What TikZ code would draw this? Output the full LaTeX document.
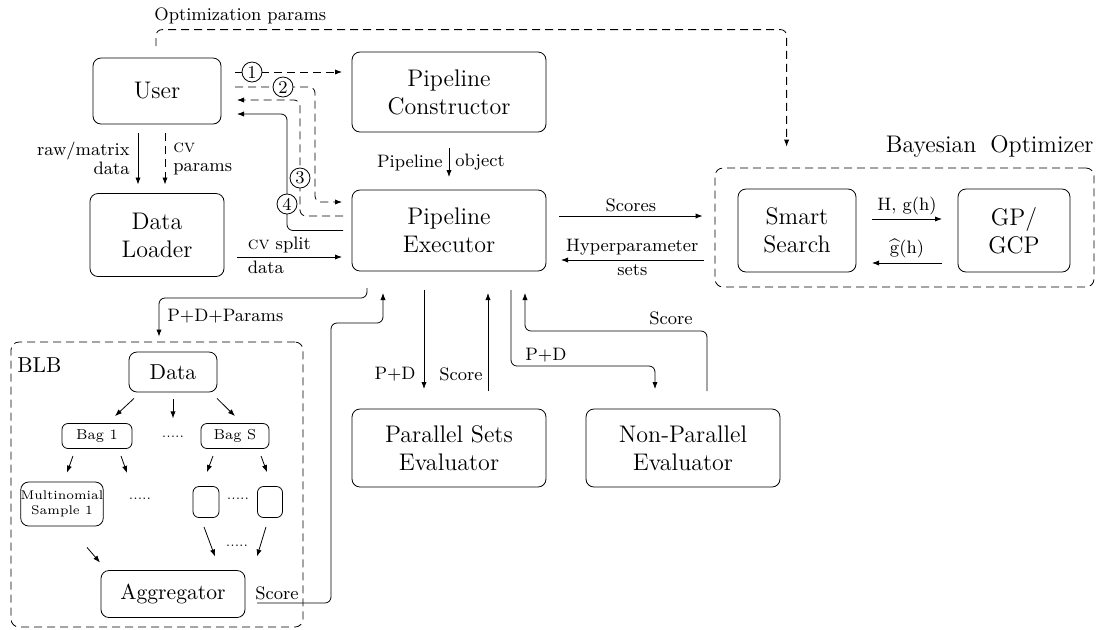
\documentclass[tikz,border=0pt]{standalone}
\usetikzlibrary{arrows.meta,calc}
\begin{document}
\begin{tikzpicture}[x=0.5pt,y=-0.5pt,
  >={Latex[length=3.5pt,width=2.6pt]},
  box/.style={draw, rounded corners=4pt, align=center, font=\large, inner sep=0pt, outer sep=0pt},
  sbox/.style={draw, rounded corners=3pt, align=center, inner sep=0pt},
  grp/.style={draw, dash pattern=on 4pt off 2.5pt, rounded corners=4pt, inner sep=0pt},
  dsh/.style={dash pattern=on 4pt off 2.5pt},
  lbl/.style={font=\small, inner xsep=0pt, inner ysep=2pt, align=center},
  twol/.style={font=\fontsize{9}{9.5}\selectfont, inner xsep=4pt, inner ysep=0pt},
  circ/.style={draw, circle, fill=white, inner sep=0pt, minimum size=10pt, font=\small},
  rc/.style={rounded corners=3pt},
  blbf/.style={font=\fontsize{10.8}{13}\selectfont},
  dots/.style={font=\fontsize{6.3}{7}\selectfont, inner sep=0pt}
]
\useasboundingbox (0,0) rectangle (1099,629);

% main boxes
\node[box, minimum width=64pt, minimum height=33pt] (user) at (157,91) {User};
\node[box, minimum width=67pt, minimum height=41.5pt] (loader) at (157,235) {Data\\Loader};
\node[box, minimum width=97pt, minimum height=40pt] (constr) at (449,92) {Pipeline\\Constructor};
\node[box, minimum width=97pt, minimum height=40.5pt] (exec) at (449,230.5) {Pipeline\\Executor};
\node[grp, minimum width=189.5pt, minimum height=59.5pt] (bayes) at (904.5,227.5) {};
\node[box, minimum width=59pt, minimum height=41.5pt] (smart) at (797,230.5) {Smart\\Search};
\node[box, minimum width=56pt, minimum height=41.5pt] (gp) at (1014,230.5) {GP/\\GCP};
\node[font=\large, anchor=east, inner sep=0pt] (bayeslbl) at (1094,146) {Bayesian\hspace{7pt}Optimizer};
\node[box, minimum width=97pt, minimum height=39pt] (par) at (449,448) {Parallel Sets\\Evaluator};
\node[box, minimum width=97pt, minimum height=39pt] (npar) at (683,448) {Non-Parallel\\Evaluator};

% BLB group
\node[grp, minimum width=146pt, minimum height=142.5pt] (blb) at (157,484.5) {};
\node[blbf, anchor=west, inner sep=0pt] (blblbl) at (17,365) {BLB};
\node[sbox, rounded corners=4pt, minimum width=44pt, minimum height=20pt, blbf] (data) at (173,372) {Data};
\node[sbox, minimum width=35pt, minimum height=12.5pt, font=\fontsize{7.2}{8}\selectfont] (bag1) at (97,436) {Bag 1};
\node[sbox, minimum width=34pt, minimum height=12.5pt, font=\fontsize{7.2}{8}\selectfont] (bags) at (235,436) {Bag S};
\node[dots] (d1) at (173,437) {.....};
\node[sbox, rounded corners=4pt, minimum width=41pt, minimum height=22pt, font=\fontsize{6.3}{7.5}\selectfont] (multi) at (62,504) {Multinomial\\Sample 1};
\node[dots] (d2) at (140,499) {.....};
\node[sbox, minimum width=13pt, minimum height=15.5pt] (sb1) at (206,502) {};
\node[dots] (d3) at (238,499) {.....};
\node[sbox, minimum width=12.5pt, minimum height=15.5pt] (sb2) at (270,502) {};
\node[dots] (d4) at (237,546) {.....};
\node[box, minimum width=72pt, minimum height=23.5pt, blbf] (agg) at (173,594) {Aggregator};

% BLB arrows
\draw[->] ($(data.south)+(-39,6)$) -- ($(bag1.north)+(18,-7)$);
\draw[->] ($(data.south)+(0,7)$) -- ($(data.south)+(0,26)$);
\draw[->] ($(data.south)+(44,6)$) -- ($(bags.north)+(0,-7)$);
\draw[->] ($(bag1.south)+(-24,7)$) -- ($(multi.north)+(5,-9)$);
\draw[->] ($(bag1.south)+(24,7)$) -- ($(bag1.south)+(30,24)$);
\draw[->] ($(bags.south)+(-22,7)$) -- ($(sb1.north)+(1,-14)$);
\draw[->] ($(bags.south)+(26,7)$) -- ($(sb2.north)+(-3,-14)$);
\draw[->] ($(multi.south)+(25,21)$) -- ($(agg.north west)+(-1,-8)$);
\draw[->] ($(sb1.south)+(-2,9)$) -- ($(agg.north)+(42,-14)$);
\draw[->] ($(sb2.south)+(-4,9)$) -- ($(agg.north)+(84,-14)$);

% user <-> constructor / executor
\draw[dsh,->] ($(user.east)+(14,-19)$) -- ($(constr.west)+(-10,-20)$);
\draw[dsh,->,rc] ($(user.east)+(14,-4)$) -| ($(exec.west)+(-37,-28.5)$) -- ($(exec.west)+(-10,-28.5)$);
\draw[dsh,->,rc] ($(exec.west)+(-9,-14.5)$) -| ($(user.east)+(79,9)$) -- ($(user.east)+(16,9)$);
\draw[->,rc] ($(exec.west)+(-9,0)$) -| ($(user.east)+(66,23)$) -- ($(user.east)+(16,23)$);
\node[circ] (n1) at (252,72) {1};
\node[circ] (n2) at (283,87) {2};
\node[circ] (n3) at (300,178) {3};
\node[circ] (n4) at (287,204) {4};

% user -> loader
\draw[->] ($(user.south)+(-19,9)$) -- ($(loader.north)+(-19,-9)$)
  node[midway, left, twol, align=right] {raw/matrix\\data};
\draw[dsh,->] ($(user.south)+(8,9)$) -- ($(loader.north)+(8,-9)$)
  node[midway, right, twol, align=left] {\textsc{cv}\\params};

% loader -> executor
\draw[->] ($(loader.east)+(13,22)$) -- ($(exec.west)+(-10,26.5)$)
  node[pos=0.1, anchor=south west, lbl] {\textsc{cv} split}
  node[pos=0.1, anchor=north west, lbl] {data};

% constructor -> executor
\draw[->] ($(constr.south)+(0,16)$) -- ($(exec.north)+(0,-13)$)
  node[midway, left, lbl, inner xsep=3pt] {Pipeline}
  node[midway, right, lbl, inner xsep=3pt] {object};

% executor <-> bayes
\draw[->] ($(exec.east)+(13,-14.5)$) -- ($(bayes.west)+(-12,-11.5)$)
  node[midway, above, lbl] {Scores};
\draw[->] ($(bayes.west)+(-11,32.5)$) -- ($(exec.east)+(15,29.5)$)
  node[midway, above, lbl] {Hyperparameter}
  node[midway, below, lbl] {sets};

% smart <-> gp
\draw[->] ($(smart.east)+(16,-11.5)$) -- ($(gp.west)+(-16,-11.5)$)
  node[midway, above, lbl] {H, g(h)};
\draw[->] ($(gp.west)+(-16,32.5)$) -- ($(smart.east)+(16,32.5)$)
  node[midway, above, lbl, inner ysep=2.5pt] {$\widehat{\mathrm{g}}(\mathrm{h})$};

% optimization params
\draw[dsh,->,rc] ($(user.north)+(-1,-12)$) |- ($(bayes.north west)+(72,-138)$) -- ($(bayes.north west)+(72,-21)$);
\node[lbl, anchor=west] (optlbl) at (154,16) {Optimization params};

% executor -> BLB
\draw[->,rc] ($(exec.south)+(-82,17)$) -- ($(exec.south)+(-82,27)$) -| ($(blb.north)+(2,-5)$);
\node[lbl, anchor=west] (pdp) at (167,316) {P+D+Params};

% aggregator -> executor
\draw[->,rc] ($(agg.east)+(12,9)$) -| ($(agg.east)+(86,-271)$) -| ($(exec.south)+(-66,22)$);
\node[lbl, anchor=west] (aggsc) at (255,593) {Score};

% executor <-> parallel
\draw[->] ($(exec.south)+(-25,19)$) -- ($(par.north)+(-25,-20)$);
\node[lbl, anchor=east] (pd1) at (416,374) {P+D};
\draw[->] ($(par.north)+(39,-18)$) -- ($(exec.south)+(39,22)$);
\node[lbl, anchor=east] (sc1) at (483,374) {Score};

% executor <-> non-parallel
\draw[->,rc] ($(exec.south)+(62,19)$) |- ($(npar.north)+(-28,-43)$) -- ($(npar.north)+(-28,-20)$);
\node[lbl, anchor=west] (pd2) at (525,355) {P+D};
\draw[->,rc] ($(npar.north)+(24,-18)$) |- ($(exec.south)+(76,60)$) -- ($(exec.south)+(76,22)$);
\node[lbl, anchor=east] (sc2) at (693,318) {Score};
\end{tikzpicture}
\end{document}
